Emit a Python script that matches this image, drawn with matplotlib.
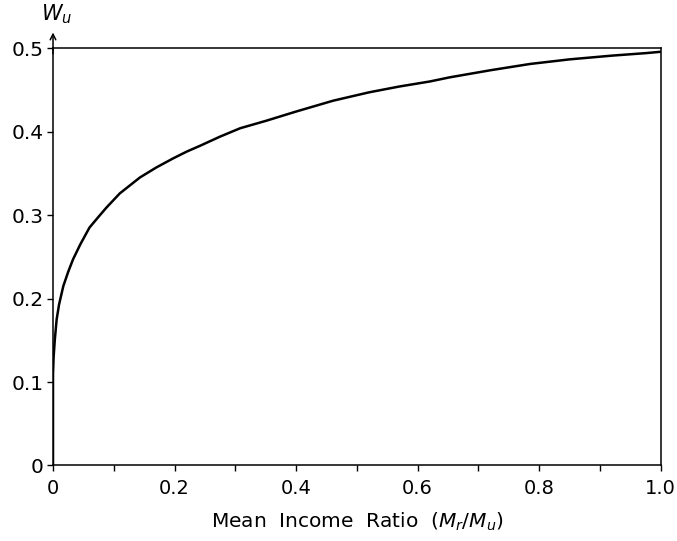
import numpy as np
import matplotlib.pyplot as plt

# Valores
razao_renda = [0.0, 0.0, 0.001, 0.003, 0.006, 0.01, 0.017, 0.025, 0.033, 0.045,
               0.06, 0.075, 0.088, 0.11, 0.143, 0.17, 0.198, 0.22, 0.242, 0.275,
               0.308, 0.351, 0.4, 0.461, 0.52, 0.57, 0.62, 0.653, 0.72, 0.785,
               0.85, 0.92, 0.976, 1.0]
w_u = [0.0, 0.11, 0.13, 0.151, 0.175, 0.193, 0.215, 0.232, 0.247, 0.265,
       0.285, 0.298, 0.309, 0.326, 0.345, 0.357, 0.368, 0.376, 0.383, 0.394,
       0.404, 0.413, 0.424, 0.437, 0.447, 0.454, 0.46, 0.465, 0.4735, 0.481,
       0.4865, 0.491, 0.494, 0.4956]

x_ticks = [0, 0.2, 0.4, 0.6, 0.8, 1.0]
x_tick_labels = ["0", "0.2", "0.4", "0.6", "0.8", "1.0"]
y_ticks = [0, 0.1, 0.2, 0.3, 0.4, 0.5]
y_tick_labels = ["0", "0.1", "0.2", "0.3", "0.4", "0.5"]

plt.rcParams['font.family'] = ['DejaVu Sans']
plt.rcParams['mathtext.fontset'] = 'dejavusans'

fig = plt.figure(figsize=(6.77, 5.41), dpi=100)
ax = fig.add_axes([0.0783, 0.1396, 0.8977, 0.7715])

ax.plot(razao_renda, w_u, color='black', linewidth=1.8,
        solid_capstyle='round', solid_joinstyle='round')

ax.set_xlim(0, 1.0)
ax.set_ylim(0, 0.5)
for s in ax.spines.values():
    s.set_linewidth(1.1)

ax.set_xticks(x_ticks)
ax.set_xticklabels(x_tick_labels, fontsize=14)
ax.set_xticks(np.arange(0.1, 1.0, 0.2), minor=True)
ax.set_yticks(y_ticks)
ax.set_yticklabels(y_tick_labels, fontsize=14.5)
ax.tick_params(axis='both', which='both', direction='out', length=4, width=1.0, color='black')
ax.tick_params(axis='x', pad=6)
ax.tick_params(axis='y', pad=3)

ax.set_xlabel("Mean  Income  Ratio  ($M_r/M_u$)", fontsize=14.5, labelpad=9)

# Seta do eixo y e rótulo W_u
ax.annotate("", xy=(0, 0.522), xytext=(0, 0.49), xycoords='data',
            arrowprops=dict(arrowstyle='->', color='black', lw=1.1),
            annotation_clip=False)
ax.text(0.006, 0.527, "$W_u$", fontsize=15, ha='center', va='bottom', clip_on=False)

fig.savefig("out.png", dpi=100)
